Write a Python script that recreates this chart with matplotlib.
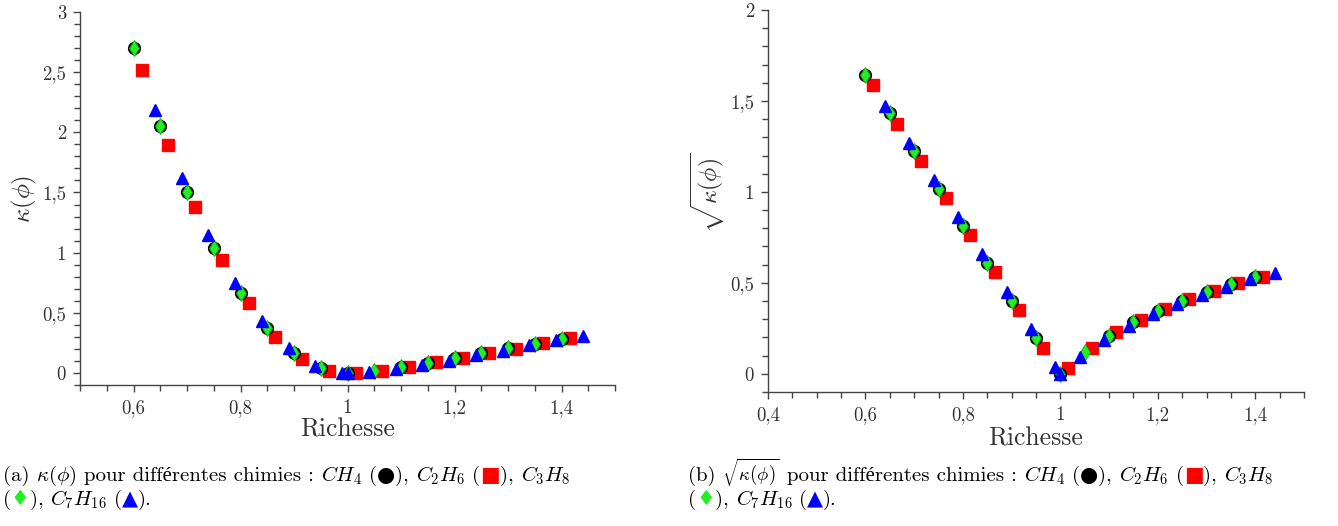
import matplotlib
matplotlib.use("Agg")
import matplotlib.pyplot as plt
from matplotlib.ticker import MultipleLocator, FixedLocator, FixedFormatter

plt.rcParams['font.family'] = ['cmr10', 'Liberation Serif', 'DejaVu Serif']
plt.rcParams['mathtext.fontset'] = 'cm'
plt.rcParams['axes.unicode_minus'] = False

# ---------------- data ----------------
# CH4 (black circles)
ch4_x = [0.60, 0.65, 0.70, 0.75, 0.80, 0.85, 0.90, 0.95, 1.00, 1.10, 1.15, 1.20, 1.25, 1.30, 1.35, 1.40]
ch4_k = [2.702, 2.049, 1.503, 1.042, 0.662, 0.372, 0.165, 0.041, 0.0, 0.047, 0.083, 0.121, 0.163, 0.204, 0.243, 0.281]
ch4_s = [1.642, 1.433, 1.225, 1.018, 0.815, 0.611, 0.402, 0.196, 0.0, 0.208, 0.283, 0.347, 0.402, 0.452, 0.494, 0.534]

# C2H6 (red squares)
c2h6_x = [0.615, 0.665, 0.715, 0.765, 0.815, 0.865, 0.915, 0.965, 1.015, 1.065, 1.115, 1.165, 1.215, 1.265, 1.315, 1.365, 1.415]
c2h6_k = [2.515, 1.894, 1.376, 0.937, 0.579, 0.303, 0.116, 0.019, 0.0, 0.020, 0.050, 0.088, 0.127, 0.165, 0.201, 0.245, 0.287]
c2h6_s = [1.585, 1.375, 1.170, 0.967, 0.762, 0.558, 0.349, 0.144, 0.031, 0.144, 0.229, 0.296, 0.356, 0.411, 0.457, 0.497, 0.534]

# C3H8 (green diamonds)
c3h8_x = [0.60, 0.65, 0.70, 0.75, 0.80, 0.85, 0.90, 0.95, 1.00, 1.05, 1.10, 1.15, 1.20, 1.25, 1.30, 1.35, 1.40]
c3h8_k = [2.702, 2.049, 1.503, 1.042, 0.662, 0.372, 0.165, 0.041, 0.0, 0.019, 0.047, 0.083, 0.121, 0.163, 0.204, 0.243, 0.281]
c3h8_s = [1.642, 1.433, 1.225, 1.018, 0.815, 0.611, 0.402, 0.196, 0.0, 0.122, 0.208, 0.283, 0.347, 0.402, 0.452, 0.494, 0.534]

# C7H16 (blue triangles)
c7h16_x = [0.64, 0.69, 0.74, 0.79, 0.84, 0.89, 0.94, 0.99, 1.00, 1.04, 1.09, 1.14, 1.19, 1.24, 1.29, 1.34, 1.39, 1.44]
c7h16_k = [2.184, 1.618, 1.144, 0.744, 0.433, 0.207, 0.055, 0.002, 0.0, 0.008, 0.033, 0.063, 0.102, 0.146, 0.185, 0.229, 0.270, 0.309]
c7h16_s = [1.475, 1.269, 1.064, 0.863, 0.658, 0.452, 0.245, 0.040, 0.0, 0.091, 0.186, 0.263, 0.329, 0.384, 0.433, 0.479, 0.519, 0.556]

# ticks
left_xticks = [0.6, 0.8, 1.0, 1.2, 1.4]
left_xlabels = ['0,6', '0,8', '1', '1,2', '1,4']
left_yticks = [0, 0.5, 1, 1.5, 2, 2.5, 3]
left_ylabels = ['0', '0,5', '1', '1,5', '2', '2,5', '3']
right_xticks = [0.4, 0.6, 0.8, 1.0, 1.2, 1.4]
right_xlabels = ['0,4', '0,6', '0,8', '1', '1,2', '1,4']
right_yticks = [0, 0.5, 1, 1.5, 2]
right_ylabels = ['0', '0,5', '1', '1,5', '2']

xlabel_text = 'Richesse'
left_ylabel = r'$\kappa(\phi)$'
right_ylabel = r'$\sqrt{\kappa(\phi)}$'

# ---------------- figure ----------------
fig = plt.figure(figsize=(13.38, 5.26), dpi=100)
W, H = 1338, 526

axL = fig.add_axes([80 / W, 1 - 385 / H, 535 / W, 373 / H])
axR = fig.add_axes([768 / W, 1 - 392 / H, 536 / W, 382 / H])

AX_COL = '#444444'
TXT_COL = '#333333'


def style(ax, xlim, ylim, xt, xl, yt, yl):
    ax.set_xlim(*xlim)
    ax.set_ylim(*ylim)
    for s in ['top', 'right']:
        ax.spines[s].set_visible(False)
    for s in ['left', 'bottom']:
        ax.spines[s].set_color(AX_COL)
        ax.spines[s].set_linewidth(1.0)
    ax.xaxis.set_major_locator(FixedLocator(xt))
    ax.xaxis.set_major_formatter(FixedFormatter(xl))
    ax.yaxis.set_major_locator(FixedLocator(yt))
    ax.yaxis.set_major_formatter(FixedFormatter(yl))
    ax.xaxis.set_minor_locator(MultipleLocator(0.05))
    ax.yaxis.set_minor_locator(MultipleLocator(0.1))
    ax.tick_params(which='both', direction='out', color=AX_COL, width=1.0,
                   labelsize=13.5, labelcolor=TXT_COL)
    ax.tick_params(which='major', length=5)
    ax.tick_params(which='minor', length=4)
    ax.tick_params(axis='x', which='major', pad=5)
    ax.tick_params(axis='y', which='major', pad=5)


style(axL, (0.5, 1.5), (-0.1, 3.0), left_xticks, left_xlabels, left_yticks, left_ylabels)
style(axR, (0.4, 1.5), (-0.1, 2.0), right_xticks, right_xlabels, right_yticks, right_ylabels)

RED = '#ff0000'
GREEN = '#22ee22'
BLUE = '#0000ff'

for ax, yk in [(axL, 'k'), (axR, 's')]:
    d = {'k': (ch4_k, c2h6_k, c3h8_k, c7h16_k), 's': (ch4_s, c2h6_s, c3h8_s, c7h16_s)}[yk]
    ax.plot(c2h6_x, d[1], linestyle='none', marker='s', markersize=8.5, color=RED,
            markeredgecolor=RED, clip_on=False, zorder=3)
    ax.plot(ch4_x, d[0], linestyle='none', marker='o', markersize=8.5, color='black',
            markeredgecolor='black', clip_on=False, zorder=4)
    ax.plot(c3h8_x, d[2], linestyle='none', marker='d', markersize=8, color=GREEN,
            markeredgecolor='#11aa11', markeredgewidth=0.6, clip_on=False, zorder=5)
    ax.plot(c7h16_x, d[3], linestyle='none', marker='^', markersize=8, color=BLUE,
            markeredgecolor=BLUE, clip_on=False, zorder=6)

axL.set_xlabel(xlabel_text, fontsize=18.5, color=TXT_COL)
axR.set_xlabel(xlabel_text, fontsize=18.5, color=TXT_COL)
axL.xaxis.set_label_coords(0.5, -0.088)
axR.xaxis.set_label_coords(0.5, -0.09)

axL.set_ylabel(left_ylabel, fontsize=18, color=TXT_COL)
axR.set_ylabel(right_ylabel, fontsize=17, color=TXT_COL)
axL.yaxis.set_label_coords(-0.077, 0.5)
axR.yaxis.set_label_coords(-0.0765, 0.52)

# ---------------- captions ----------------
cap = fig.add_axes([0, 0, 1, 1], zorder=-1)
cap.set_axis_off()
cap.set_xlim(0, W)
cap.set_ylim(H, 0)

renderer = fig.canvas.get_renderer()
CAP_FS = 15
SYM_FAMILY = ['DejaVu Sans']


def piece_width(s, fs, **kw):
    t1 = cap.text(0, 0, s + '|', fontsize=fs, **kw)
    t2 = cap.text(0, 0, '|', fontsize=fs, **kw)
    w = t1.get_window_extent(renderer).width - t2.get_window_extent(renderer).width
    t1.remove()
    t2.remove()
    return w


def draw_line(x, y, pieces):
    for item in pieces:
        s, col, kind = item[:3]
        fs = item[3] if len(item) > 3 else CAP_FS
        kw = {}
        if kind == 'sym':
            kw['family'] = SYM_FAMILY
        if kind == 'math':
            t = cap.text(x, y, s, fontsize=fs, color=col, va='baseline', ha='left', **kw)
            w = t.get_window_extent(renderer).width
        else:
            cap.text(x, y, s, fontsize=fs, color=col, va='baseline', ha='left', **kw)
            w = piece_width(s, fs, **kw)
        x += w


def caption(x0, y1, y2, head, head_math, head_fs):
    line1 = [(head, 'black', 'text'), (head_math, 'black', 'math', head_fs),
             (' pour différentes chimies : ', 'black', 'text'),
             (r'$CH_4$', 'black', 'math'), (' (', 'black', 'text'),
             ('●', 'black', 'sym'), ('), ', 'black', 'text'),
             (r'$C_2H_6$', 'black', 'math'), (' (', 'black', 'text'),
             ('■', RED, 'sym'), ('), ', 'black', 'text'),
             (r'$C_3H_8$', 'black', 'math')]
    line2 = [('(', 'black', 'text'), ('♦', GREEN, 'sym'), ('), ', 'black', 'text'),
             (r'$C_7H_{16}$', 'black', 'math'), (' (', 'black', 'text'),
             ('▲', BLUE, 'sym'), (').', 'black', 'text')]
    draw_line(x0, y1, line1)
    draw_line(x0, y2, line2)


caption(3, 481, 505, '(a) ', r'$\kappa(\phi)$', CAP_FS)
caption(688, 481, 505, '(b) ', r'$\sqrt{\kappa(\phi)}$', 13.5)

fig.savefig('out.png', dpi=100)
